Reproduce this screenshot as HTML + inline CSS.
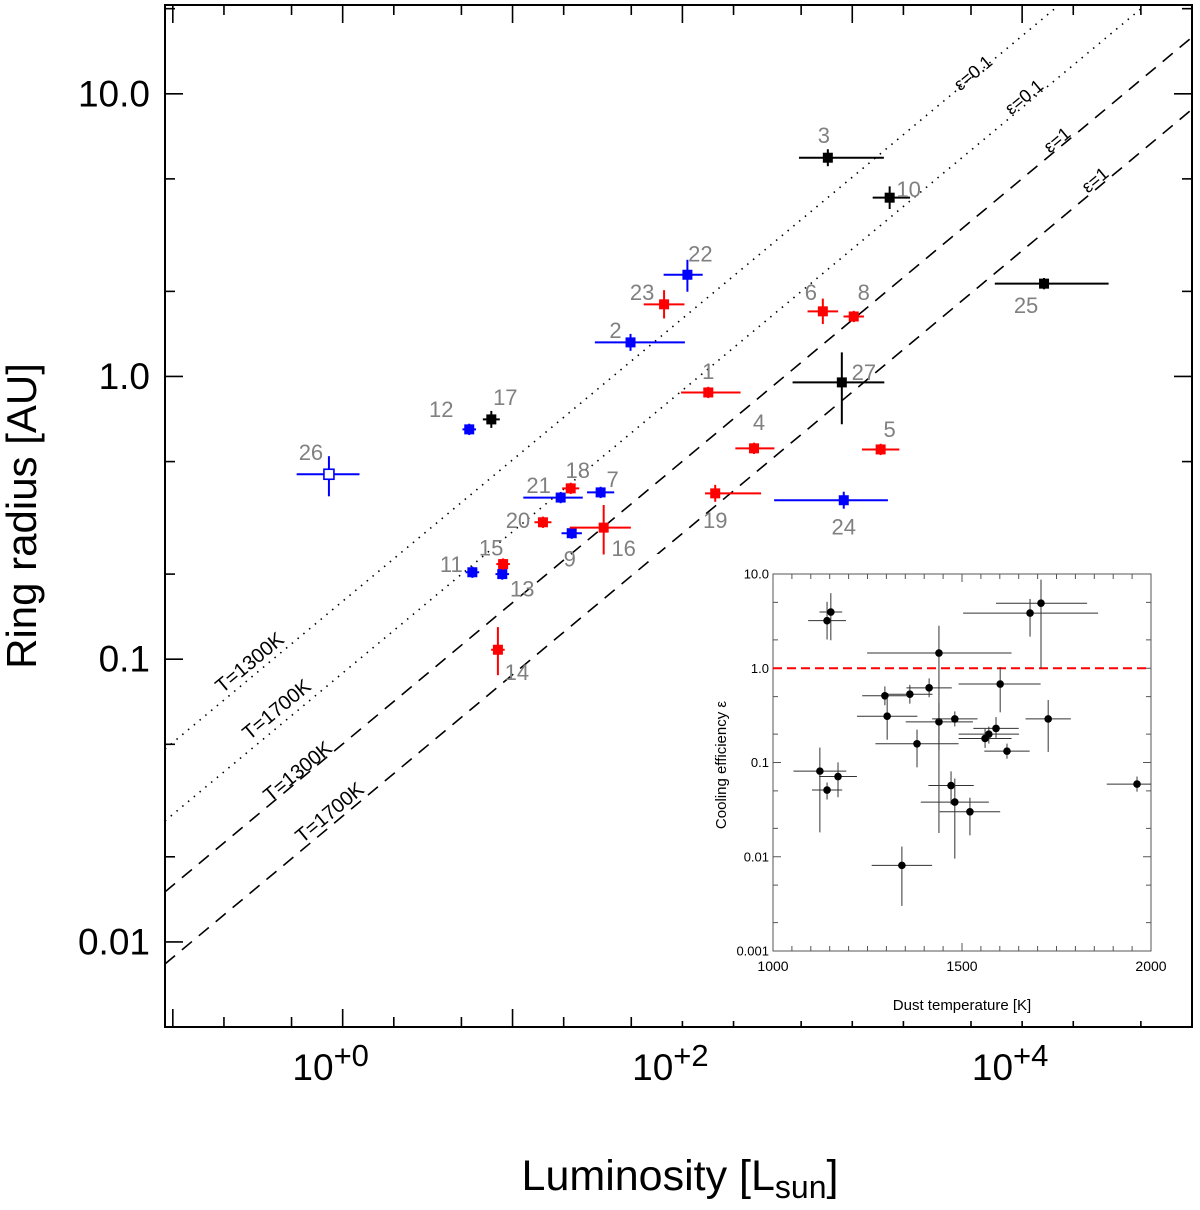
<!DOCTYPE html>
<html><head><meta charset="utf-8"><style>
body{margin:0;background:#fff;}
svg text{font-family:"Liberation Sans",sans-serif;}
</style></head><body>
<svg id="chart" width="1200" height="1205" viewBox="0 0 1200 1205" xmlns="http://www.w3.org/2000/svg">
<g id="main"></g>
<g id="inset"></g>
</svg>
<script>
// ===== Main chart data =====
const ids = [1,2,3,4,5,6,7,8,9,10,11,12,13,14,15,16,17,18,19,20,21,22,23,24,25,26,27];
const colors = ['red','blue','black','red','red','red','blue','red','blue','black','blue','blue','blue','red','red','red','black','red','red','red','blue','blue','red','blue','black','blue-open','black'];
const luminosity = [142,49.5,718,264,1469,671,33,1020,22.3,1660,5.8,5.56,8.7,8.2,8.8,34.4,7.5,22,156,15.1,19.2,107,78,891,13460,0.83,868];
const radius = [0.878,1.32,5.94,0.557,0.552,1.70,0.389,1.63,0.279,4.29,0.203,0.65,0.20,0.108,0.217,0.292,0.705,0.402,0.386,0.305,0.373,2.29,1.80,0.365,2.13,0.451,0.953];
const lumErrLo = [0.16,0.21,0.17,0.11,0.11,0.09,0.08,0.06,0.06,0.10,0.04,0.04,0.04,0.04,0.04,0.20,0.05,0.05,0.06,0.05,0.22,0.14,0.12,0.41,0.29,0.19,0.29];
const lumErrHi = [0.19,0.32,0.33,0.12,0.11,0.09,0.08,0.06,0.06,0.12,0.04,0.04,0.04,0.04,0.04,0.16,0.05,0.05,0.27,0.05,0.13,0.09,0.12,0.26,0.38,0.18,0.25];
const radErrLo = [0.02,0.03,0.03,0.02,0.02,0.045,0.02,0.02,0.02,0.04,0.02,0.02,0.02,0.09,0.02,0.095,0.03,0.02,0.03,0.02,0.02,0.06,0.05,0.03,0.02,0.078,0.148];
const radErrHi = [0.02,0.03,0.03,0.02,0.02,0.045,0.02,0.02,0.02,0.04,0.02,0.02,0.02,0.08,0.02,0.08,0.03,0.02,0.03,0.02,0.02,0.053,0.05,0.03,0.02,0.064,0.106];
// model lines: log R = 0.5 log L + c
const lineConsts = [-0.795,-1.049,-1.30,-1.555];
const lineTemps = ['T=1300K','T=1700K','T=1300K','T=1700K'];
const lineEps = ['ε=0.1','ε=0.1','ε=1','ε=1'];
const xTickDecades = [-1,0,1,2,3,4];
const xTickLabels = ['','10','','10','','10'];
const xTickSup = ['','+0','','+2','','+4'];
const yTickDecades = [-2,-1,0,1];
const yTickLabels = ['0.01','0.1','1.0','10.0'];
// label layout (pixels, not data)
const labelDx = [0,-15,-4,5,9,-12,12,10,-2,19,-21,-28,20,19,-12,20,14,7,0,-25,-22,13,-22,0,-18,-18,22];
const labelDy = [-21,-12,-22,-26,-20,-19,-13,-24,26,-8,-8,-20,15,23,-16,21,-22,-18,27,-2,-12,-21,-12,27,22,-22,-10];

// ===== Inset data =====
const dustTemp = [1143,1153,1680,1709,1439,1601,1413,1362,1296,1302,1381,1439,1481,1590,1571,1561,1619,1728,1124,1172,1143,1963,1471,1481,1521,1341];
const coolEff = [3.2,3.95,3.85,4.9,1.45,0.68,0.62,0.53,0.51,0.31,0.158,0.27,0.29,0.23,0.20,0.18,0.132,0.29,0.081,0.071,0.051,0.059,0.057,0.038,0.030,0.0081];
const tempErrLo = [50,30,177,119,190,110,60,60,60,80,110,88,60,60,80,70,60,60,70,50,40,80,60,90,80,80];
const tempErrHi = [50,30,180,122,192,107,60,60,60,80,110,90,60,60,80,70,60,60,70,50,40,37,60,90,80,80];
const effErrLo = [0.2,0.3,0.25,0.69,1.91,0.3,0.1,0.1,0.1,0.25,0.25,0.3,0.08,0.1,0.1,0.1,0.08,0.35,0.65,0.22,0.1,0.08,0.2,0.6,0.25,0.43];
const effErrHi = [0.2,0.2,0.15,0.25,0.29,0.18,0.1,0.1,0.1,0.2,0.15,0.2,0.08,0.12,0.08,0.1,0.08,0.2,0.25,0.15,0.08,0.08,0.15,0.25,0.15,0.2];
const insetXTicks = [1000,1500,2000];
const insetYTicks = [-3,-2,-1,0,1];
const insetYLabels = ['0.001','0.01','0.1','1.0','10.0'];

const NS='http://www.w3.org/2000/svg';
function mk(parent,tag,attrs,text){const e=document.createElementNS(NS,tag);for(const k in attrs)e.setAttribute(k,attrs[k]);if(text!==undefined)e.textContent=text;parent.appendChild(e);return e;}

// ---- main axes ----
const M={l:165,r:1192,t:5,b:1027};
const xLogMin=-1.046,xLogMax=5.0,yLogMin=-2.301,yLogMax=1.314;
const xs=v=>M.l+(Math.log10(v)-xLogMin)/(xLogMax-xLogMin)*(M.r-M.l);
const xsl=l=>M.l+(l-xLogMin)/(xLogMax-xLogMin)*(M.r-M.l);
const ys=v=>M.b-(Math.log10(v)-yLogMin)/(yLogMax-yLogMin)*(M.b-M.t);
const ysl=l=>M.b-(l-yLogMin)/(yLogMax-yLogMin)*(M.b-M.t);
const main=document.getElementById('main');

const clip=mk(main,'clipPath',{id:'mclip'});mk(clip,'rect',{x:M.l,y:M.t,width:M.r-M.l,height:M.b-M.t});

// model lines
const lg=mk(main,'g',{'clip-path':'url(#mclip)'});
lineConsts.forEach((c,i)=>{
  const l0=xLogMin,l1=xLogMax;
  const ln=mk(lg,'line',{x1:xsl(l0),y1:ysl(0.5*l0+c),x2:xsl(l1),y2:ysl(0.5*l1+c),stroke:'#000','stroke-width':1.6,'stroke-dasharray':i<2?'1.5 6':'13 9'});
  
  
});
const ang=-Math.atan(0.5*(283/170.5))*180/Math.PI;
const tPos=[[250,663],[277,710],[298,772],[330,813]];
const ePos=[[973,73],[1024,97],[1057,140],[1095,180]];
lineTemps.forEach((t,i)=>{
  const tx=mk(main,'text',{x:tPos[i][0],y:tPos[i][1],'font-size':20,'text-anchor':'middle','dominant-baseline':'central',transform:`rotate(${ang} ${tPos[i][0]} ${tPos[i][1]})`},t);
  
  
  const ex=mk(main,'text',{x:ePos[i][0],y:ePos[i][1],'font-size':18,'text-anchor':'middle','dominant-baseline':'central',transform:`rotate(${ang} ${ePos[i][0]} ${ePos[i][1]})`},lineEps[i]);
  
  
});

// frame
const fr=mk(main,'rect',{x:M.l,y:M.t,width:M.r-M.l,height:M.b-M.t,fill:'none',stroke:'#000','stroke-width':2});



// x ticks
xTickDecades.forEach((d,i)=>{
  [0,Math.log10(2),Math.log10(5)].forEach((m,j)=>{
    const x=xsl(d+m); if(x<M.l||x>M.r)return;
    const len=j===0?18:10;
    mk(main,'line',{x1:x,y1:M.b,x2:x,y2:M.b-len,stroke:'#000','stroke-width':1.6});
    mk(main,'line',{x1:x,y1:M.t,x2:x,y2:M.t+len,stroke:'#000','stroke-width':1.6});
  });
  if(xTickLabels[i]){
    const t=mk(main,'text',{x:xsl(d)-12,y:1080,'font-size':37,'text-anchor':'middle'});
    
    
    mk(t,'tspan',{},xTickLabels[i]);
    mk(t,'tspan',{dy:-14,'font-size':31},xTickSup[i]);
  }
});
// y ticks
[-3,-2,-1,0,1].forEach(d=>{
  [0,Math.log10(2),Math.log10(5)].forEach((m,j)=>{
    const y=ysl(d+m); if(y<M.t||y>M.b)return;
    const len=j===0?18:10;
    mk(main,'line',{x1:M.l,y1:y,x2:M.l+len,y2:y,stroke:'#000','stroke-width':1.6});
    mk(main,'line',{x1:M.r,y1:y,x2:M.r-len,y2:y,stroke:'#000','stroke-width':1.6});
  });
});
yTickDecades.forEach((d,i)=>{
  const t=mk(main,'text',{x:150,y:ysl(d),'font-size':37,'text-anchor':'end','dominant-baseline':'central'},yTickLabels[i]);
  
  
});
// axis titles
const xt=mk(main,'text',{x:680,y:1190,'font-size':43,'text-anchor':'middle'});


mk(xt,'tspan',{},'Luminosity [L');mk(xt,'tspan',{dy:8,'font-size':32},'sun');mk(xt,'tspan',{dy:-8},']');
const yt=mk(main,'text',{x:36,y:516,'font-size':42,'text-anchor':'middle',transform:'rotate(-90 36 516)'},'Ring radius [AU]');



// data points
const colMap={red:'#ff0000',blue:'#0000ff',black:'#000000','blue-open':'#0000ff'};
luminosity.forEach((L,i)=>{
  const g=mk(main,'g',{});
  
  
  const c=colMap[colors[i]];
  const cx=xs(L),cy=ys(radius[i]);
  const lL=Math.log10(L),lR=Math.log10(radius[i]);
  mk(g,'line',{x1:xsl(lL-lumErrLo[i]),y1:cy,x2:xsl(lL+lumErrHi[i]),y2:cy,stroke:c,'stroke-width':2});
  mk(g,'line',{x1:cx,y1:ysl(lR-radErrLo[i]),x2:cx,y2:ysl(lR+radErrHi[i]),stroke:c,'stroke-width':2});
  if(colors[i]==='blue-open') mk(g,'rect',{x:cx-5,y:cy-5,width:10,height:10,fill:'#fff',stroke:c,'stroke-width':1.6});
  else mk(g,'rect',{x:cx-5,y:cy-5,width:10,height:10,fill:c});
  const lb=mk(g,'text',{x:cx+labelDx[i],y:cy+labelDy[i],'font-size':22,fill:'#808080','text-anchor':'middle','dominant-baseline':'central'},String(ids[i]));
  
  
});

// ---- inset ----
const I={l:773,r:1151,t:574,b:951};
const ix=v=>I.l+(v-1000)/1000*(I.r-I.l);
const iyl=l=>I.b-(l+3)/4*(I.b-I.t);
const iy=v=>iyl(Math.log10(v));
const inset=document.getElementById('inset');
mk(inset,'rect',{x:I.l-120,y:I.t-20,width:I.r-I.l+160,height:I.b-I.t+90,fill:'#fff'});
const iclip=mk(inset,'clipPath',{id:'iclip'});mk(iclip,'rect',{x:I.l,y:I.t,width:I.r-I.l,height:I.b-I.t});
const ifr=mk(inset,'rect',{x:I.l,y:I.t,width:I.r-I.l,height:I.b-I.t,fill:'none',stroke:'#555','stroke-width':1});


for(let t=1050;t<2000;t+=50){const x=ix(t);const len=t%500===0?8:5;
  mk(inset,'line',{x1:x,y1:I.b,x2:x,y2:I.b-len,stroke:'#555'});mk(inset,'line',{x1:x,y1:I.t,x2:x,y2:I.t+len,stroke:'#555'});}
insetXTicks.forEach(t=>{const e=mk(inset,'text',{x:ix(t),y:I.b+20,'font-size':14,'text-anchor':'middle'},String(t));
  
  });
for(let d=-3;d<=1;d++){[0,Math.log10(2),Math.log10(5)].forEach((m,j)=>{const y=iyl(d+m);if(y<I.t-0.5)return;const len=j===0?8:5;
  mk(inset,'line',{x1:I.l,y1:y,x2:I.l+len,y2:y,stroke:'#555'});mk(inset,'line',{x1:I.r,y1:y,x2:I.r-len,y2:y,stroke:'#555'});});}
insetYTicks.forEach((d,i)=>{const e=mk(inset,'text',{x:I.l-4,y:iyl(d),'font-size':13,'text-anchor':'end','dominant-baseline':'central'},insetYLabels[i]);
  
  });
const ixt=mk(inset,'text',{x:962,y:1010,'font-size':15,'text-anchor':'middle'},'Dust temperature [K]');


const iyt=mk(inset,'text',{x:726,y:765,'font-size':15,'text-anchor':'middle',transform:'rotate(-90 726 765)'},'Cooling efficiency ε');


const ref=mk(inset,'line',{x1:I.l,y1:iy(1),x2:I.r,y2:iy(1),stroke:'#ff0000','stroke-width':2,'stroke-dasharray':'9 5'});


const ig=mk(inset,'g',{'clip-path':'url(#iclip)'});
dustTemp.forEach((T,i)=>{
  const g=mk(ig,'g',{});
  
  
  const cx=ix(T),cy=iy(coolEff[i]),le=Math.log10(coolEff[i]);
  mk(g,'line',{x1:ix(T-tempErrLo[i]),y1:cy,x2:ix(T+tempErrHi[i]),y2:cy,stroke:'#333','stroke-width':1});
  mk(g,'line',{x1:cx,y1:iyl(le-effErrLo[i]),x2:cx,y2:iyl(le+effErrHi[i]),stroke:'#333','stroke-width':1});
  mk(g,'circle',{cx:cx,cy:cy,r:3.8,fill:'#000'});
});
</script>
</body></html>
